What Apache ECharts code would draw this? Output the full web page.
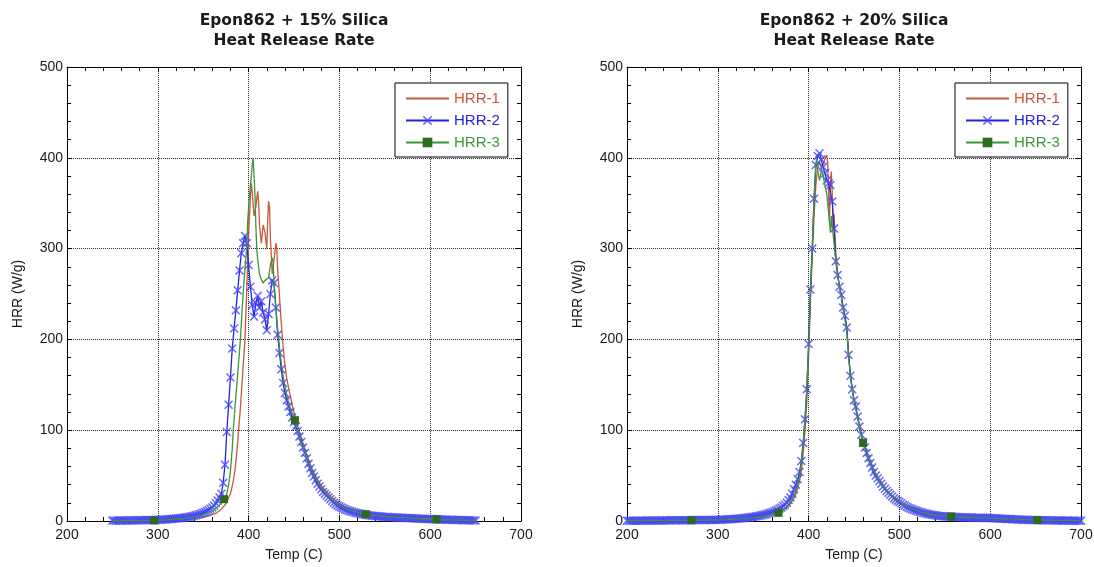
<!DOCTYPE html>
<html><head><meta charset="utf-8">
<script src="https://cdn.jsdelivr.net/npm/echarts@6/dist/echarts.min.js"></script>
<style>html,body{margin:0;padding:0;background:#fff}#c{width:1094px;height:567px}</style>
</head><body><div id="c"></div>
<script>
// ---------- axis ranges / ticks ----------
const X_MIN = 200, X_MAX = 700, X_STEP = 100;
const Y_MIN = 0, Y_MAX = 500, Y_STEP = 100;
const TITLES = ['Epon862 + 15% Silica\nHeat Release Rate', 'Epon862 + 20% Silica\nHeat Release Rate'];
const SERIES_NAMES = ['HRR-1', 'HRR-2', 'HRR-3'];

// ---------- Left plot: 15% silica ----------
const L_HRR1 = [[250,0.2],[270,0.3],[290,0.5],[300,0.8],[310,1.1],[320,1.5],[330,2.1],[340,3],[350,4.5],[355,5.5],[360,7],[365,9],[370,13],[375,19],[380,30],[383,43],[385,56],[387,75],[389,100],[391,125],[393,155],[395,185],[396,200],[398,255],[400,315],[402,358],[403,372],[404,362],[406,336],[408,346],[410,363],[411,352],[412,326],[414,306],[416,326],[418,318],[420,300],[421,330],[422,352],[423,346],[424,312],[426,272],[428,288],[430,306],[431,300],[432,278],[434,248],[436,218],[438,192],[440,172],[442,157],[445,142],[448,128],[452,112],[456,98],[460,85],[465,70],[470,57],[475,47],[480,39],[490,27],[500,19],[510,13.5],[520,10],[530,8.3],[540,7],[560,5],[580,3.8],[600,2.8],[620,2],[640,1.2],[650,0.9]];

const L_HRR2_T0 = 250, L_HRR2_STEP = 2;
const L_HRR2 = [
  0.5,0.5,0.4,0.5,0.5,0.6,0.5,0.6,0.6,0.6, 0.7,0.6,0.7,0.7,0.8,0.8,0.8,0.9,0.9,1.0, 1.0,1.1,1.1,1.2,1.2,
  1.3,1.4,1.5,1.6,1.7,1.8,2.0,2.1,2.3,2.5, 2.7,2.9,3.1,3.3,3.6,3.9,4.2,4.5,4.9,5.3, 5.8,6.3,6.9,7.5,8.2,
  9,10,11,12,13.5,15,17,19.5,22.5,26,
  30,42,62,98,128,158,190,212,232,254,276,295,306,314,306,
  282,258,238,225,240,248,235,242,230,222,210,228,250,265,262,235,205,
  185,167,152,141,133,126,120,114,109,104,99,93,87,81,75,69,63,58,53,49,45,41,38,35,32,30,28,26,24,22,20,18.5,17,
  16,15,14,13,12.2,11.5,10.8,10.2,9.6,9.1, 8.6,8.2,7.8,7.4,7.0,6.7,6.4,6.1,5.9,5.7, 5.5,5.3,5.1,4.9,4.7,4.5,
  4.4,4.3,4.2,4.1,4.0,3.9,3.8,3.7,3.6,3.5, 3.4,3.3,3.2,3.1,3.0,2.9,2.8,2.7,2.6,2.5, 2.5,2.4,2.3,2.2,2.1,
  2.0,2.0,1.9,1.8,1.8,1.7,1.6,1.6,1.5,1.4, 1.4,1.3,1.2,1.2,1.1,1.0,1.0,0.9,0.9,0.8, 0.8,0.7,0.7,0.6,0.6
];

const L_HRR3 = [[250,0.3],[270,0.4],[285,0.5],[296,0.6],[310,1.2],[320,2],[330,3],[340,4.5],[350,7],[360,11],[365,15],[370,20],[373,24],[376,30],[378,40],[380,55],[382,80],[383,98],[385,125],[387,150],[389,175],[391,200],[393,235],[395,265],[397,290],[398,300],[399,330],[401,360],[403,380],[404,392],[405,400],[406,398],[407,360],[408,325],[409,300],[410,288],[412,272],[414,266],[416,262],[418,265],[420,263],[422,268],[424,282],[426,290],[427,285],[428,262],[430,235],[432,212],[434,192],[436,174],[438,160],[440,148],[443,134],[446,124],[451,111],[455,98],[460,82],[465,68],[470,55],[475,45],[480,37],[490,25],[500,17],[510,12.5],[520,9.5],[529,7.5],[540,6],[560,4.3],[580,3.2],[600,2.2],[607,1.8],[620,1.3],[640,0.8],[650,0.6]];
const L_HRR3_MARKS = [296, 373, 451, 529, 607];

// ---------- Right plot: 20% silica ----------
const R_HRR1 = [[200,0.3],[230,0.4],[260,0.6],[290,1],[310,1.6],[330,2.6],[340,3.5],[350,5],[360,7.5],[370,11],[375,14],[380,19],[385,27],[388,36],[390,44],[392,56],[394,74],[396,98],[398,130],[400,180],[402,240],[404,290],[406,335],[408,370],[410,390],[412,395],[414,388],[416,393],[418,399],[420,403],[421,395],[422,362],[423,330],[424,368],[425,385],[426,362],[427,322],[428,338],[430,296],[432,272],[434,258],[436,248],[438,236],[440,225],[442,213],[444,186],[446,162],[448,146],[450,134],[455,110],[460,88],[465,72],[470,60],[475,49],[480,41],[490,29],[500,21],[510,15],[520,11],[530,8.2],[540,6.3],[550,5.1],[560,4.4],[580,3.7],[600,3.2],[620,2.3],[640,1.5],[660,0.9],[680,0.6],[700,0.4]];

const R_HRR2_T0 = 200, R_HRR2_STEP = 2;
const R_HRR2 = [
  0.4,0.3,0.4,0.4,0.3,0.4,0.4,0.4,0.5,0.4, 0.5,0.5,0.5,0.5,0.5,0.6,0.5,0.6,0.6,0.6, 0.6,0.6,0.7,0.6,0.7,
  0.7,0.7,0.7,0.8,0.8,0.8,0.8,0.9,0.9,0.9, 0.9,1.0,1.0,1.0,1.0,1.1,1.1,1.1,1.1,1.2, 1.2,1.2,1.2,1.3,1.3,
  1.3,1.4,1.5,1.6,1.7,1.8,1.9,2.0,2.1,2.2, 2.4,2.6,2.8,3.0,3.2,3.4,3.6,3.9,4.2,4.5, 4.8,5.1,5.4,5.8,6.2,
  6.7,7.2,7.8,8.4,9,9.7,10.5,11.5,12.5,13.8, 15,16.5,18,20,23,26,30,35,40,46, 54,66,86,112,145,
  195,255,300,355,392,402,405,398,390,383, 375,372,370,352,322,286,271,258,249,235, 226,213,183,160,145,133,
  126,115,104,95,87,81,75,69,64,59, 54,50,47,44,41,38,35.5,33,31,29, 27,25,23.5,22,
  21,19.5,18,16.8,15.7,14.7,13.8,13,12.2,11.5, 10.8,10.2,9.6,9,8.5,8,7.6,7.2,6.8,6.5, 6.2,5.9,5.6,5.4,5.2,
  5,4.9,4.8,4.7,4.6,4.5,4.4,4.3,4.2,4.1, 4,3.95,3.9,3.85,3.8,3.75,3.7,3.65,3.6,3.55, 3.5,3.45,3.4,3.35,3.3,
  3.2,3.1,3,2.9,2.8,2.7,2.6,2.5,2.4,2.3, 2.2,2.1,2,1.9,1.8,1.7,1.6,1.5,1.4,1.3, 1.25,1.2,1.15,1.1,1.05,
  1,0.95,0.9,0.9,0.85,0.8,0.8,0.75,0.7,0.7, 0.65,0.6,0.6,0.55,0.5,0.5,0.5,0.45,0.45,0.4, 0.4,0.4,0.35,0.35,0.3,0.3
];

const R_HRR3 = [[200,0.4],[230,0.5],[250,0.6],[271,0.8],[290,1.1],[310,1.6],[330,2.7],[340,3.8],[350,5.2],[360,7.5],[367,9],[375,15],[380,21],[385,30],[388,40],[390,50],[392,64],[394,84],[396,110],[398,143],[400,193],[402,250],[404,300],[406,355],[408,394],[409,398],[410,386],[412,375],[414,386],[416,380],[418,370],[420,360],[422,340],[424,318],[425,336],[426,325],[428,306],[430,286],[432,271],[434,257],[436,246],[438,233],[440,222],[442,210],[444,182],[446,160],[448,145],[450,133],[455,108],[460,86],[465,71],[470,59],[480,41],[490,29],[500,21],[510,15],[520,11],[530,8],[540,6.2],[557,5],[580,3.7],[600,3.2],[620,2.3],[640,1.5],[652,1.1],[670,0.7],[700,0.4]];
const R_HRR3_MARKS = [271, 367, 460, 557, 652];

// ---------- styling ----------
const C1 = '#c9573a', C2 = '#2323dd', C2M = 'rgba(70,70,248,0.8)', C3 = '#3f943c', C3M = '#2c6a1e';
const TXT = '#1a1a1a';
const FONT = 'Liberation Sans';
const XPATH = 'path://M0,1.2L1.2,0L5,3.8L8.8,0L10,1.2L6.2,5L10,8.8L8.8,10L5,6.2L1.2,10L0,8.8L3.8,5Z';
const GRIDS = [{left: 67, top: 67, width: 454, height: 454}, {left: 627, top: 67, width: 454, height: 454}];

function stepped(t0, step, vals) { return vals.map((v, i) => [t0 + i * step, v]); }
function marked(pairs, marks) {
  return pairs.map(p => marks.indexOf(p[0]) >= 0 ? {value: p} : {value: p, symbol: 'none'});
}

const tickStyle = {show: true, inside: true, length: 5, lineStyle: {color: '#000', width: 1}};
const minorStyle = {show: true, splitNumber: 5, length: 4, lineStyle: {color: '#000', width: 1}};
const lineAx = {show: true, onZero: false, lineStyle: {color: '#000', width: 1}};
const splitSt = {show: true, lineStyle: {color: '#2a2a2a', width: 1, type: [1, 1]}};
const labelSt = {color: TXT, fontSize: 14, fontFamily: FONT, showMinLabel: true, showMaxLabel: true, hideOverlap: false};
const nameSt = {color: TXT, fontSize: 14, fontFamily: FONT};

const xAxes = [], yAxes = [];
GRIDS.forEach((g, gi) => {
  xAxes.push({gridIndex: gi, type: 'value', min: X_MIN, max: X_MAX, interval: X_STEP, position: 'bottom',
    name: 'Temp (C)', nameLocation: 'middle', nameGap: 27, nameTextStyle: nameSt,
    axisLine: lineAx, axisTick: tickStyle, minorTick: minorStyle,
    axisLabel: Object.assign({margin: 7}, labelSt), splitLine: splitSt});
  xAxes.push({gridIndex: gi, type: 'value', min: X_MIN, max: X_MAX, interval: X_STEP, position: 'top',
    axisLine: lineAx, axisTick: tickStyle, minorTick: minorStyle,
    axisLabel: {show: false}, splitLine: {show: false}});
  yAxes.push({gridIndex: gi, type: 'value', min: Y_MIN, max: Y_MAX, interval: Y_STEP, position: 'left',
    name: 'HRR (W/g)', nameLocation: 'middle', nameGap: 42, nameTextStyle: nameSt,
    axisLine: lineAx, axisTick: tickStyle, minorTick: minorStyle,
    axisLabel: Object.assign({margin: 4}, labelSt), splitLine: splitSt});
  yAxes.push({gridIndex: gi, type: 'value', min: Y_MIN, max: Y_MAX, interval: Y_STEP, position: 'right',
    axisLine: lineAx, axisTick: tickStyle, minorTick: minorStyle,
    axisLabel: {show: false}, splitLine: {show: false}});
});

function plotSeries(gi, hrr1, hrr2, hrr3) {
  const common = {type: 'line', xAxisIndex: gi * 2, yAxisIndex: gi * 2, animation: false,
    emphasis: {disabled: true}, silent: true};
  return [
    Object.assign({}, common, {name: SERIES_NAMES[0], data: hrr1, symbol: 'none',
      lineStyle: {color: C1, width: 1.3}, itemStyle: {color: C1}, z: 2}),
    Object.assign({}, common, {name: SERIES_NAMES[1], data: hrr2, symbol: XPATH, symbolSize: 9, showSymbol: true,
      lineStyle: {color: C2, width: 1.3}, itemStyle: {color: C2M}, z: 3}),
    Object.assign({}, common, {name: SERIES_NAMES[2], data: hrr3, symbol: 'rect', symbolSize: 8, showSymbol: true,
      lineStyle: {color: C3, width: 1.3}, itemStyle: {color: C3M}, z: 4})
  ];
}

function legendFor(left) {
  return {left: left, top: 83, orient: 'vertical', itemWidth: 43, itemHeight: 12, itemGap: 7,
    padding: [8, 8, 7, 10], borderColor: '#000', borderWidth: 1, backgroundColor: '#fff',
    selectedMode: false, z: 10,
    textStyle: {fontSize: 15, fontFamily: FONT, lineHeight: 14},
    data: [
      {name: SERIES_NAMES[0], textStyle: {color: C1}, itemStyle: {opacity: 0}},
      {name: SERIES_NAMES[1], textStyle: {color: C2}},
      {name: SERIES_NAMES[2], textStyle: {color: C3}}
    ]};
}

const chart = echarts.init(document.getElementById('c'), null, {renderer: 'canvas'});
chart.setOption({
  backgroundColor: '#fff',
  animation: false,
  grid: GRIDS.map(g => Object.assign({outerBoundsMode: 'none', containLabel: false}, g)),
  xAxis: xAxes,
  yAxis: yAxes,
  legend: [legendFor(395), legendFor(955)],
  graphic: TITLES.map((t, i) => ({
    type: 'text', x: GRIDS[i].left + GRIDS[i].width / 2, y: 11,
    style: {text: t, textAlign: 'center', fill: TXT, fontFamily: 'DejaVu Sans', fontWeight: 'bold', fontSize: 15.5, lineHeight: 20}
  })),
  series: [].concat(
    plotSeries(0, L_HRR1, stepped(L_HRR2_T0, L_HRR2_STEP, L_HRR2), marked(L_HRR3, L_HRR3_MARKS)),
    plotSeries(1, R_HRR1, stepped(R_HRR2_T0, R_HRR2_STEP, R_HRR2), marked(R_HRR3, R_HRR3_MARKS))
  )
});
</script>
</body></html>
